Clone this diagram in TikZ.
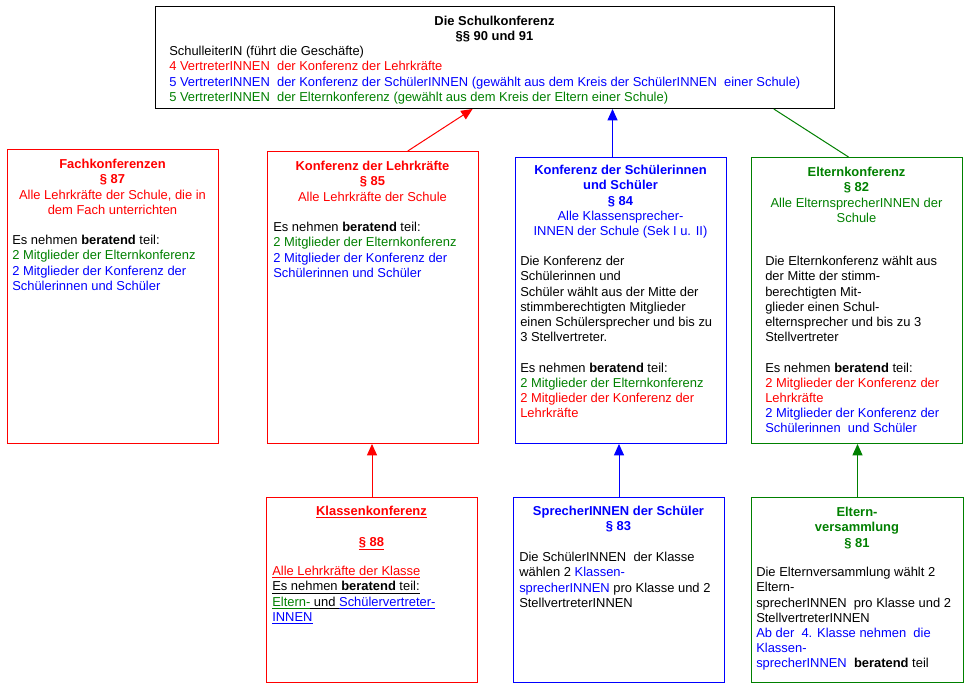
\documentclass[tikz,border=0pt]{standalone}
\usepackage{fontspec}
\setmainfont{Liberation Sans}
\usetikzlibrary{arrows.meta,calc}
\definecolor{cRed}{RGB}{255,0,0}
\definecolor{cBlue}{RGB}{0,0,255}
\definecolor{cGreen}{RGB}{0,128,0}
\begin{document}
\begin{tikzpicture}[x=0.75pt,y=-0.75pt,
  box/.style={draw, line width=0.75pt, inner sep=0pt, anchor=north west, minimum width=158.25pt},
  hd/.style={anchor=north, align=center, inner sep=0pt, font=\fontsize{9.7}{11.4}\selectfont},
  bd/.style={anchor=north west, align=left, inner sep=0pt, font=\fontsize{9.7}{11.4}\selectfont},
  arr/.style={line width=0.75pt, -{Triangle[length=8.5pt,width=7.5pt]}}]
\fill[white] (0,0) rectangle (972,689);
\useasboundingbox (0,0) rectangle (972,689);

% boxes
\node[box, minimum width=509.25pt, minimum height=76.5pt] (sk) at (155,6) {};
\node[box, draw=cRed, minimum height=220.5pt] (fk) at (7,149) {};
\node[box, draw=cRed, minimum height=219pt] (lk) at (267,151) {};
\node[box, draw=cBlue, minimum height=214.5pt] (sch) at (515,157) {};
\node[box, draw=cGreen, minimum height=214.5pt] (ek) at (751,157) {};
\node[box, draw=cRed, minimum height=138.75pt] (kk) at (266,497) {};
\node[box, draw=cBlue, minimum height=138.75pt] (sp) at (513,497) {};
\node[box, draw=cGreen, minimum width=159pt, minimum height=138.75pt] (ev) at (751,497) {};

% top box
\node[hd] (skh) at (494.5,15.5) {\textbf{Die Schulkonferenz}\\\textbf{§§ 90 und 91}};
\node[bd] (skb) at (169,46) {SchulleiterIN (führt die Geschäfte)\\
\textcolor{cRed}{4 VertreterINNEN\ \ der Konferenz der Lehrkräfte}\\
\textcolor{cBlue}{5 VertreterINNEN\ \ der Konferenz der SchülerINNEN\ (gewählt aus dem Kreis der SchülerINNEN\ \ einer Schule)}\\
\textcolor{cGreen}{5 VertreterINNEN\ \ der Elternkonferenz (gewählt aus dem Kreis der Eltern einer Schule)}};

% Fachkonferenzen
\node[hd, text=cRed] (fkh) at (112.5,159) {\textbf{Fachkonferenzen}\\\textbf{§ 87}\\Alle Lehrkräfte der Schule, die in\\dem Fach unterrichten};
\node[bd] (fkb) at (12,235) {Es nehmen \textbf{beratend} teil:\\
\textcolor{cGreen}{2 Mitglieder der Elternkonferenz}\\
\textcolor{cBlue}{2 Mitglieder der Konferenz der}\\
\textcolor{cBlue}{Schülerinnen\ und Schüler}};

% Konferenz der Lehrkraefte
\node[hd, text=cRed] (lkh) at (372.5,161) {\textbf{Konferenz der Lehrkräfte}\\\textbf{§ 85}\\Alle Lehrkräfte der Schule};
\node[bd] (lkb) at (273,222) {Es nehmen \textbf{beratend} teil:\\
\textcolor{cGreen}{2 Mitglieder der Elternkonferenz}\\
\textcolor{cBlue}{2 Mitglieder der Konferenz der}\\
\textcolor{cBlue}{Schülerinnen\ und Schüler}};

% Konferenz der Schuelerinnen und Schueler
\node[hd, text=cBlue] (schh) at (620.5,165) {\textbf{Konferenz der Schülerinnen}\\\textbf{und Schüler}\\\textbf{§ 84}\\Alle Klassensprecher-\\INNEN der Schule (Sek I u. II)};
\node[bd] (schb) at (520,256) {Die Konferenz der\\Schülerinnen\ und\\Schüler wählt aus der Mitte der\\stimmberechtigten Mitglieder\\einen Schülersprecher und bis zu\\3 Stellvertreter.\\[11.4pt]
Es nehmen \textbf{beratend} teil:\\
\textcolor{cGreen}{2 Mitglieder der Elternkonferenz}\\
\textcolor{cRed}{2 Mitglieder der Konferenz der}\\
\textcolor{cRed}{Lehrkräfte}};

% Elternkonferenz
\node[hd, text=cGreen] (ekh) at (856.5,167) {\textbf{Elternkonferenz}\\\textbf{§ 82}\\Alle ElternsprecherINNEN der\\Schule};
\node[bd] (ekb) at (765,256) {Die Elternkonferenz wählt aus\\der Mitte der stimm-\\berechtigten Mit-\\glieder einen Schul-\\elternsprecher und bis zu 3\\Stellvertreter\\[11.4pt]
Es nehmen \textbf{beratend} teil:\\
\textcolor{cRed}{2 Mitglieder der Konferenz der}\\
\textcolor{cRed}{Lehrkräfte}\\
\textcolor{cBlue}{2 Mitglieder der Konferenz der}\\
\textcolor{cBlue}{Schülerinnen\ \ und Schüler}};

% Klassenkonferenz
\node[hd, text=cRed] (kkh) at (371.5,506) {\underline{\textbf{Klassenkonferenz}}\\[11.4pt]\underline{\textbf{§ 88}}};
\node[bd] (kkb) at (272,566) {\textcolor{cRed}{\underline{Alle Lehrkräfte der Klasse}}\\
\underline{Es nehmen\ \textbf{beratend} teil:}\\
\textcolor{cGreen}{\underline{Eltern-}}\underline{ und }\textcolor{cBlue}{\underline{Schülervertreter-}}\\
\textcolor{cBlue}{\underline{INNEN}}};

% SprecherINNEN der Schueler
\node[hd, text=cBlue] (sph) at (618.5,506) {\textbf{SprecherINNEN der Schüler}\\\textbf{§ 83}};
\node[bd] (spb) at (519,552) {Die SchülerINNEN\ \ der Klasse\\
wählen 2 \textcolor{cBlue}{Klassen-}\\
\textcolor{cBlue}{sprecherINNEN} pro Klasse und 2\\
StellvertreterINNEN};

% Elternversammlung
\node[hd, text=cGreen] (evh) at (857,507) {\textbf{Eltern-}\\\textbf{versammlung}\\\textbf{§ 81}};
\node[bd] (evb) at (756,567) {Die Elternversammlung wählt 2\\Eltern-\\sprecherINNEN\ \ pro Klasse und 2\\StellvertreterINNEN\\
\textcolor{cBlue}{Ab der\ \ 4. Klasse nehmen\ \ die}\\
\textcolor{cBlue}{Klassen-}\\
\textcolor{cBlue}{sprecherINNEN}\ \ \textbf{beratend}\ teil};

% connectors
\coordinate (r1) at ($(lk.north west)!0.664!(lk.north east)$);
\coordinate (r2) at ($(sk.south west)!0.467!(sk.south east)$);
\draw[arr, cRed] (r1) -- (r2);
\coordinate (b1) at ($(sch.north west)!0.46!(sch.north east)$);
\draw[arr, cBlue] (b1) -- (b1 |- sk.south);
\coordinate (g1) at ($(ek.north west)!0.46!(ek.north east)$);
\coordinate (g2) at ($(sk.south west)!0.91!(sk.south east)$);
\draw[cGreen, line width=0.75pt] (g1) -- (g2);
\draw[arr, cRed] (kk.north) -- (kk.north |- lk.south);
\draw[arr, cBlue] (sp.north) -- (sp.north |- sch.south);
\draw[arr, cGreen] (ev.north) -- (ev.north |- ek.south);
\end{tikzpicture}
\end{document}
